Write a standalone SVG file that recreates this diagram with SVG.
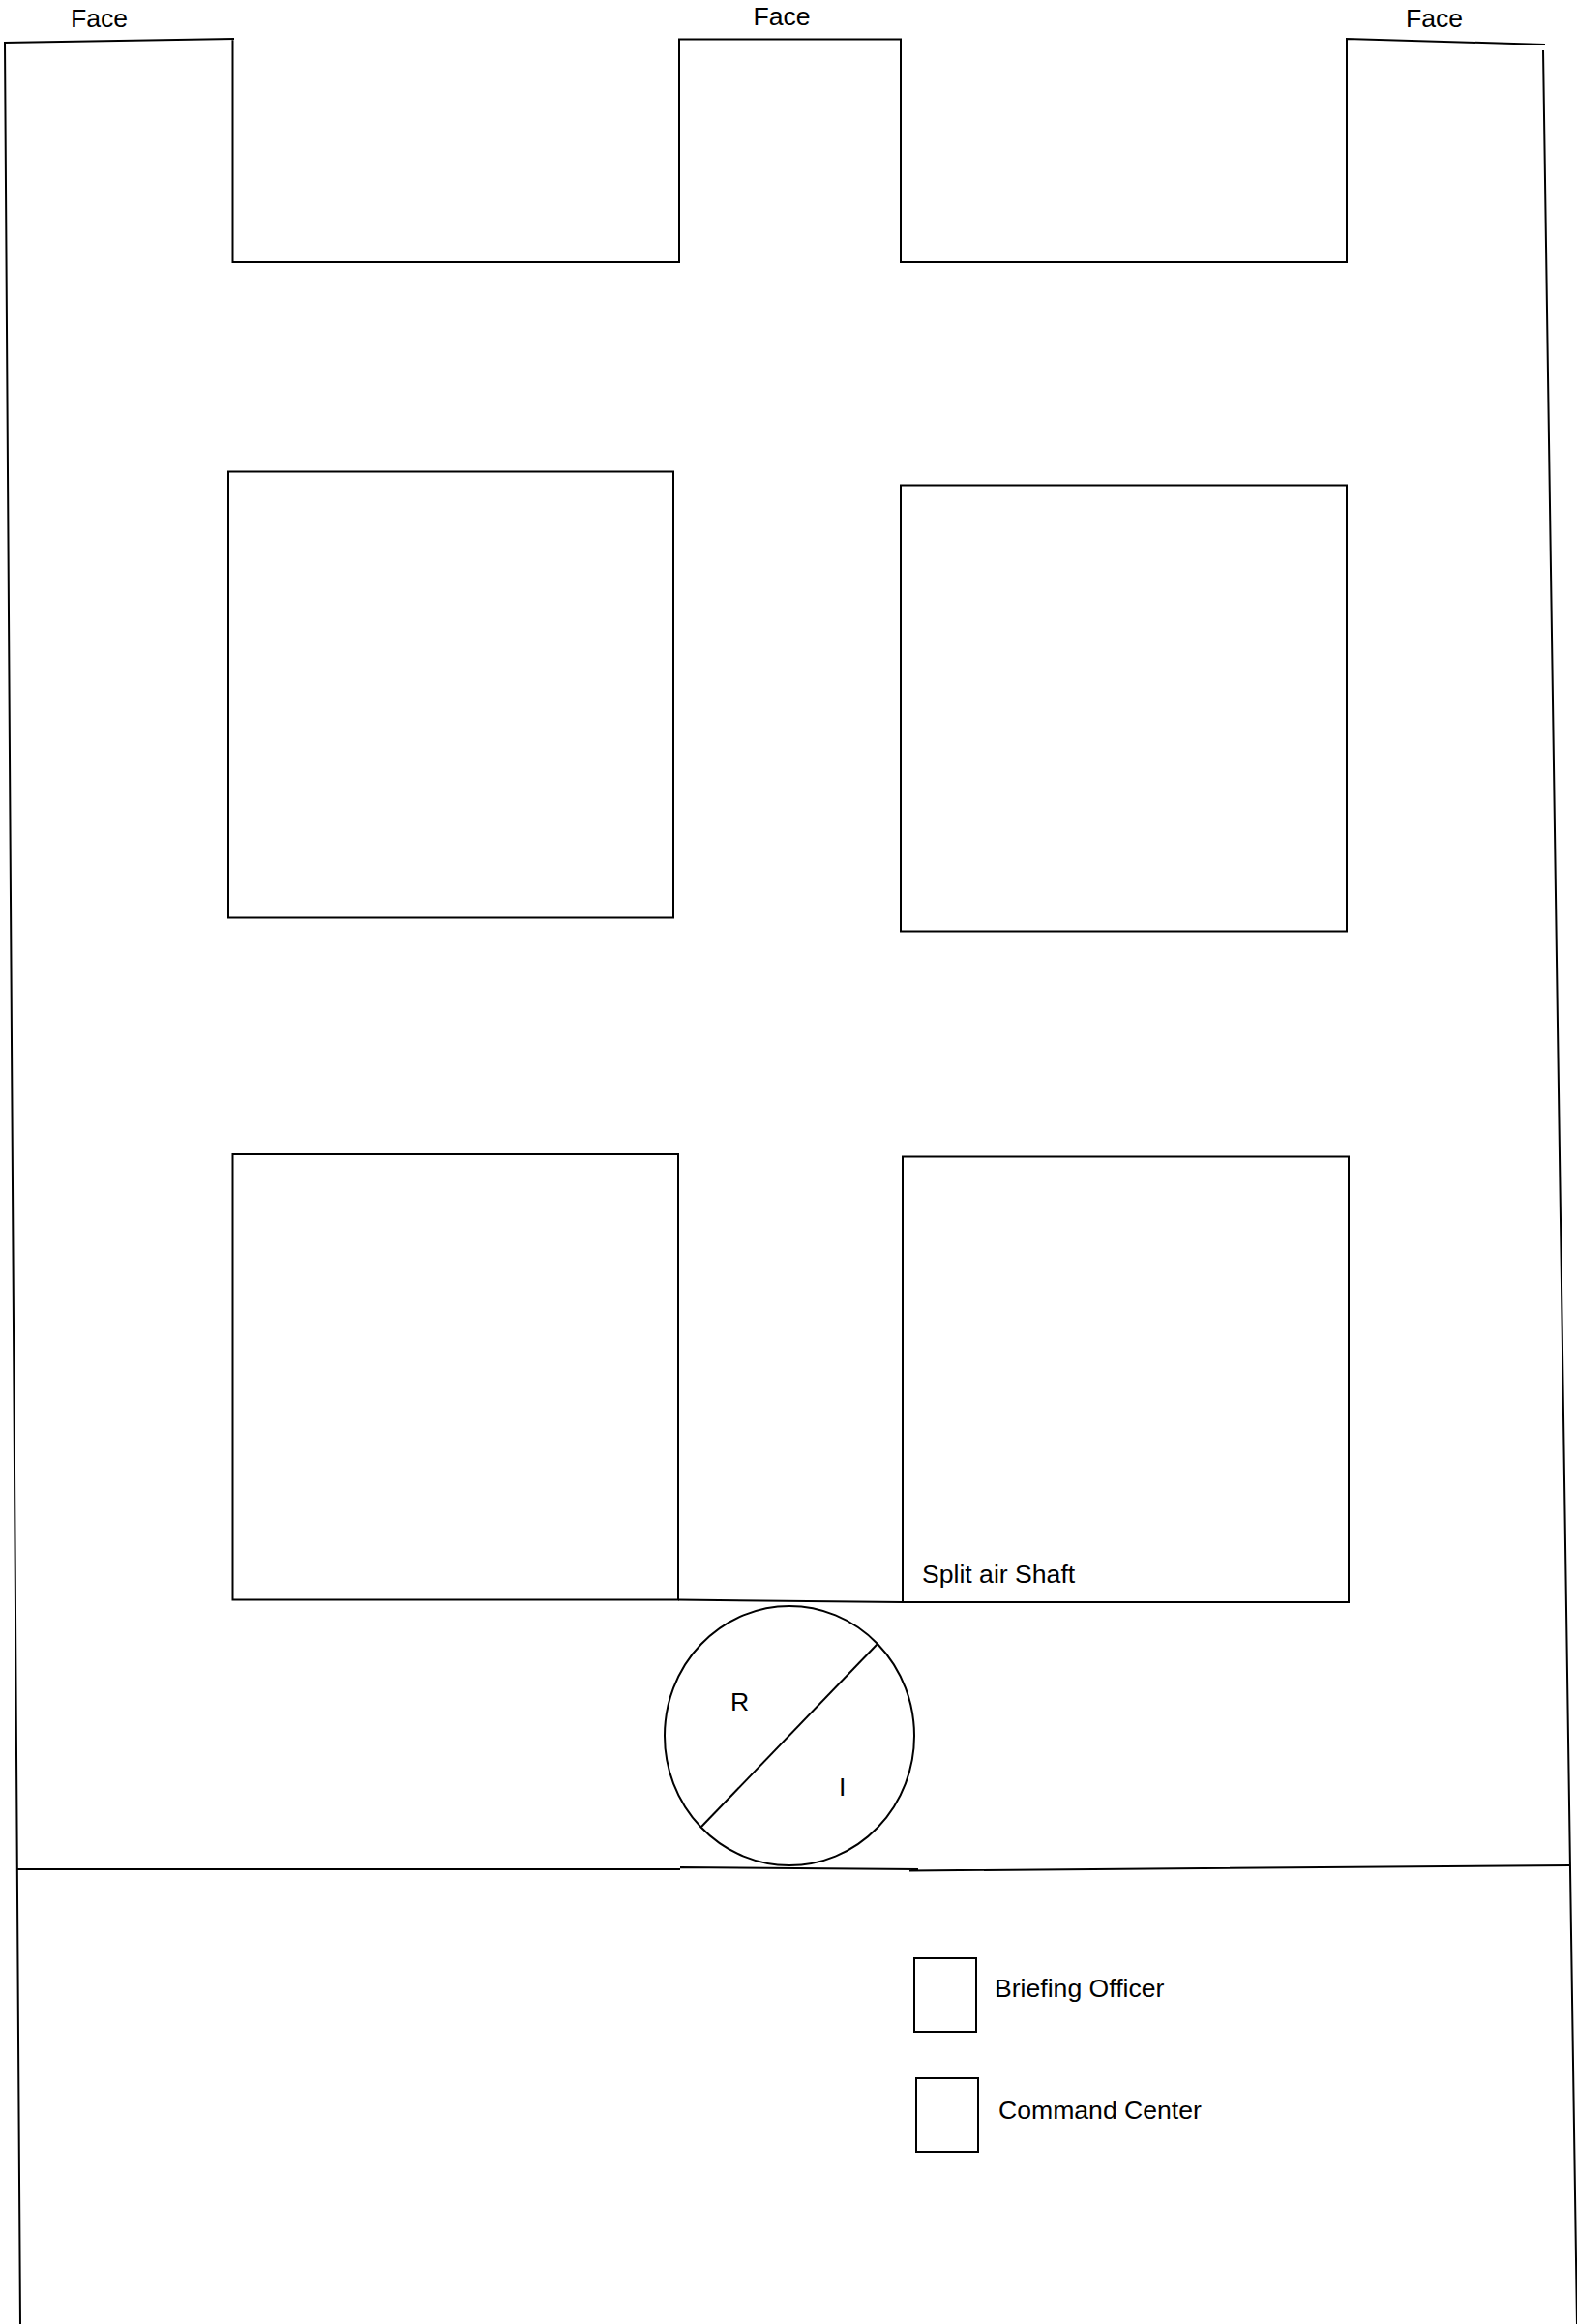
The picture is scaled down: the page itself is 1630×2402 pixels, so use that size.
<svg xmlns="http://www.w3.org/2000/svg" width="1630" height="2402" viewBox="0 0 1630 2402">
<style>
.s{fill:none;stroke:#000;stroke-width:2}
.t{font-family:"Liberation Sans",Arial,sans-serif;font-size:26.600px;fill:#000}
</style>
<rect width="1630" height="2402" fill="#fff"/>
<g id="outline">
<path class="s" d="M4 44L242 40M5 44L21 2402M240.500 40V271H702V40.500H931V271H1392V40L1597 46M1595 52L1630 2402"/>
<path class="s" d="M18 1932H703M703 1930L949 1932M940 1933.500L1623 1928"/>
</g>
<g id="box-1"><rect class="s" x="236" y="487.500" width="460" height="461"/></g>
<g id="box-2"><rect class="s" x="931" y="501.500" width="461" height="461"/></g>
<g id="box-3"><rect class="s" x="240.500" y="1193" width="460.500" height="460.500"/></g>
<g id="box-4"><rect class="s" x="933" y="1195.500" width="461" height="460.500"/><text class="t" x="953" y="1635.500">Split air Shaft</text></g>
<path class="s" d="M701 1653.500L933 1656"/>
<g id="ri-circle">
<ellipse class="s" cx="816" cy="1794" rx="129" ry="134"/>
<path class="s" d="M907 1699L725 1888"/>
<text class="t" x="755" y="1768">R</text>
<text class="t" x="867" y="1856">I</text>
</g>
<g id="briefing-officer"><rect class="s" x="945" y="2024" width="64" height="76"/><text class="t" x="1028" y="2064">Briefing Officer</text></g>
<g id="command-center"><rect class="s" x="947" y="2148" width="64" height="76"/><text class="t" x="1032" y="2190">Command Center</text></g>
<text class="t" x="73" y="28">Face</text>
<text class="t" x="778.500" y="26">Face</text>
<text class="t" x="1453" y="28">Face</text>
</svg>
